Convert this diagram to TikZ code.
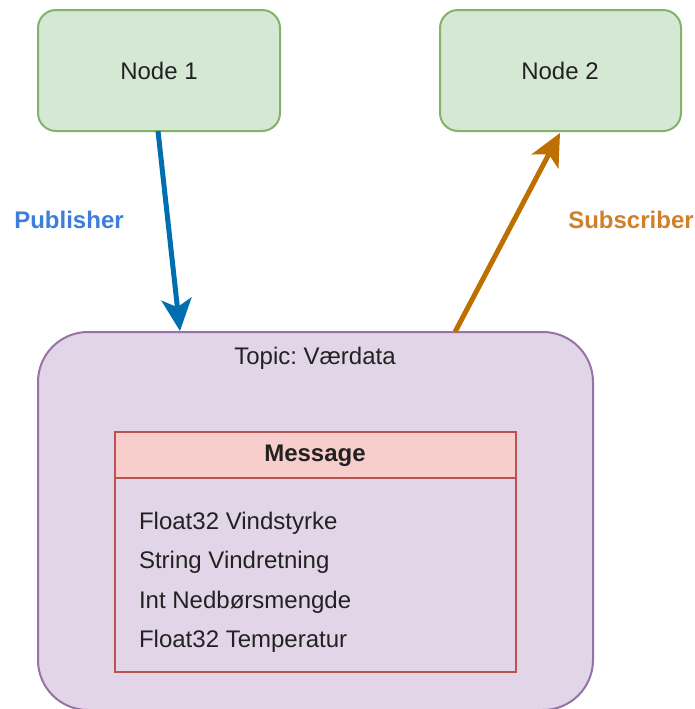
\documentclass[tikz,border=0pt]{standalone}
\usepackage{fontspec}
\setmainfont{Liberation Sans}
\usetikzlibrary{arrows.meta}

\definecolor{nodefill}{HTML}{D5E8D4}
\definecolor{nodeline}{HTML}{82B366}
\definecolor{topicfill}{HTML}{E1D5E7}
\definecolor{topicline}{HTML}{9673A6}
\definecolor{msgfill}{HTML}{F8CECC}
\definecolor{msgline}{HTML}{B85450}
\definecolor{publine}{HTML}{006EAF}
\definecolor{pubtext}{HTML}{3D7EDB}
\definecolor{subline}{HTML}{BD7000}
\definecolor{subtext}{HTML}{D07F2A}
\definecolor{ink}{HTML}{222222}

\tikzset{
  rosnode/.style={draw=nodeline, fill=nodefill, line width=1pt, rounded corners=9pt},
  topicbox/.style={draw=topicline, fill=topicfill, line width=1pt, rounded corners=25pt},
  msgbox/.style={draw=msgline, line width=1pt},
  label/.style={font=\fontsize{12pt}{14pt}\selectfont\frenchspacing, text=ink},
  flow/.style={line width=2.5pt, -{Stealth[length=16pt, width=15pt, inset=4pt]}},
}

\begin{document}
\begin{tikzpicture}[x=0.5pt, y=-0.5pt]
  \useasboundingbox (0,0) rectangle (695,709);
  \clip (0,0) rectangle (695,709);

  % ROS nodes
  \draw[rosnode] (38,10) rectangle (280,131);
  \node[label] (n1) at (159,71) {Node 1};
  \coordinate (n1b) at (158,131);
  \draw[rosnode] (440,10) rectangle (681,131);
  \node[label] (n2) at (560,71) {Node 2};
  \coordinate (n2b) at (560,133);

  % topic container
  \draw[topicbox] (38,332) rectangle (593,710);
  \node[label] (topic) at (315,358) {Topic: Værdata};
  \coordinate (tin) at (180,331);
  \coordinate (tout) at (455,332);

  % message definition
  \draw[msgbox, fill=msgfill] (115,432) rectangle (516,478);
  \draw[msgbox] (115,478) rectangle (516,672);
  \node[label, font=\fontsize{12pt}{14pt}\selectfont\bfseries] (msg) at (315,456) {Message};
  \node[label, anchor=west] (f1) at (132,523) {Float32 Vindstyrke};
  \node[label, anchor=west] (f2) at (132,562) {String Vindretning};
  \node[label, anchor=west] (f3) at (132,602) {Int Nedbørsmengde};
  \node[label, anchor=west] (f4) at (132,641) {Float32 Temperatur};

  % publish / subscribe connectors
  \draw[flow, draw=publine] (n1b) -- (tin);
  \draw[flow, draw=subline] (tout) -- (n2b);
  \node[font=\fontsize{12pt}{14pt}\selectfont\bfseries, text=pubtext] (pub) at (69,220) {Publisher};
  \node[font=\fontsize{12pt}{14pt}\selectfont\bfseries, text=subtext] (sub) at (631,220) {Subscriber};
\end{tikzpicture}
\end{document}
